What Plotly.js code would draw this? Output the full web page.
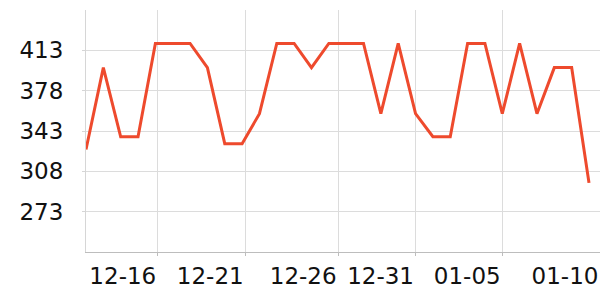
<!DOCTYPE html>
<html>
<head>
<meta charset="utf-8">
<script src="https://cdn.plot.ly/plotly-3.0.1.min.js"></script>
<style>html,body{margin:0;padding:0;background:#fff;}#chart{width:600px;height:300px;}</style>
</head>
<body>
<div id="chart"></div>
<script>
// Data
var dates = [
  "2023-12-12","2023-12-13","2023-12-14","2023-12-15","2023-12-16","2023-12-17",
  "2023-12-18","2023-12-19","2023-12-20","2023-12-21","2023-12-22","2023-12-23",
  "2023-12-24","2023-12-25","2023-12-26","2023-12-27","2023-12-28","2023-12-29",
  "2023-12-30","2023-12-31","2024-01-01","2024-01-02","2024-01-03","2024-01-04",
  "2024-01-05","2024-01-06","2024-01-07","2024-01-08","2024-01-09","2024-01-10"
];
var values = [
  327, 398, 338, 338, 419, 419,
  419, 398, 332, 332, 358, 419,
  419, 398, 419, 419, 419, 358,
  419, 358, 338, 338, 419, 419,
  358, 419, 358, 398, 398, 298
];
var xTickVals = ["2023-12-16 03:20","2023-12-21 04:20","2023-12-26 13:00","2023-12-31 00:00","2024-01-05 00:00","2024-01-10 15:13"];
var xTickText = ["12-16","12-21","12-26","12-31","01-05","01-10"];
var yTickVals = [273, 308, 343, 378, 413];

var trace = {
  x: dates,
  y: values,
  type: "scatter",
  mode: "lines",
  line: {color: "#ee4a2d", width: 3},
  hoverinfo: "skip"
};

var layout = {
  width: 600,
  height: 300,
  margin: {l: 86, r: 0, t: 10, b: 48, pad: 0},
  paper_bgcolor: "#ffffff",
  plot_bgcolor: "#ffffff",
  showlegend: false,
  font: {family: "DejaVu Sans", size: 23, color: "#111111"},
  xaxis: {
    type: "date",
    range: ["2023-12-12 00:00", "2024-01-10 15:13"],
    tickmode: "array",
    tickvals: xTickVals,
    ticktext: xTickText,
    ticklabelshift: -35,
    showgrid: true,
    gridcolor: "#dcdcdc",
    gridwidth: 1,
    zeroline: false,
    showline: true,
    linecolor: "#bdbdbd",
    linewidth: 1,
    ticks: "outside",
    ticklen: 3,
    tickcolor: "#bdbdbd",
    tickfont: {family: "DejaVu Sans", size: 23, color: "#111111"},
    fixedrange: true
  },
  yaxis: {
    range: [238, 448],
    tickmode: "array",
    tickvals: yTickVals,
    showgrid: true,
    gridcolor: "#dcdcdc",
    gridwidth: 1,
    zeroline: false,
    showline: true,
    linecolor: "#d6d6d6",
    linewidth: 1,
    ticks: "outside",
    ticklen: 3,
    tickcolor: "#d6d6d6",
    ticklabelstandoff: 14,
    tickfont: {family: "DejaVu Sans", size: 23, color: "#111111"},
    fixedrange: true
  }
};

Plotly.newPlot("chart", [trace], layout, {staticPlot: true, displayModeBar: false});
</script>
</body>
</html>
